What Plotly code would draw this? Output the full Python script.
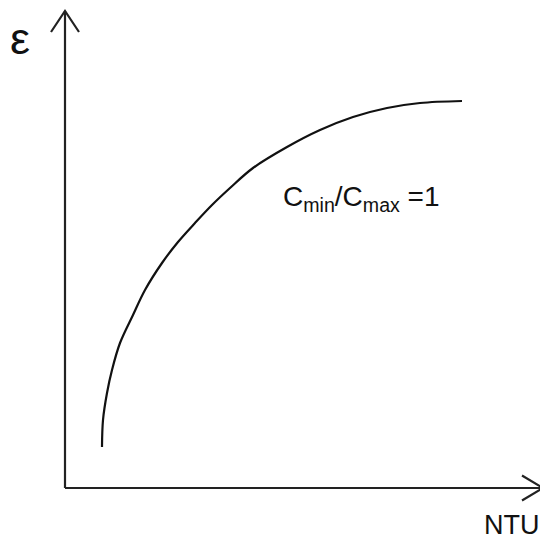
import plotly.graph_objects as go

# effectiveness curve (NTU, epsilon) in arbitrary units
ntu = [0.37, 0.38, 0.42, 0.47, 0.55, 0.68, 0.80, 0.97, 1.13, 1.30,
       1.47, 1.65, 1.88, 2.22, 2.55, 2.88, 3.22, 3.55, 3.97]
eps = [0.41, 0.68, 0.95, 1.18, 1.45, 1.73, 1.98, 2.25, 2.46, 2.65,
       2.83, 3.00, 3.20, 3.41, 3.58, 3.71, 3.80, 3.85, 3.87]

x_end = 4.78
y_end = 4.77

fig = go.Figure()
fig.add_trace(go.Scatter(
    x=ntu, y=eps, mode="lines",
    line=dict(color="#111111", width=2.2, shape="spline", smoothing=1.0),
    hoverinfo="skip", showlegend=False,
))

axis_line = dict(color="#222222", width=2.2)
fig.add_shape(type="line", x0=0, y0=0, x1=x_end, y1=0, line=axis_line)
fig.add_shape(type="line", x0=0, y0=0, x1=0, y1=y_end, line=axis_line)
# open arrowheads
fig.add_shape(type="path", path=f"M {x_end-0.21},0.125 L {x_end},0 L {x_end-0.21},-0.125",
              line=axis_line)
fig.add_shape(type="path", path=f"M -0.14,{y_end-0.21} L 0,{y_end} L 0.14,{y_end-0.21}",
              line=axis_line)

fig.add_annotation(x=-0.45, y=4.50, text="ε", showarrow=False,
                   font=dict(size=45, color="#111111"))
fig.add_annotation(x=4.77, y=-0.535, text="NTU", showarrow=False,
                   xanchor="right", yanchor="bottom",
                   font=dict(size=27, color="#111111"))
fig.add_annotation(x=2.16, y=2.9, text="C<sub>min</sub>/C<sub>max</sub> =1",
                   showarrow=False, xanchor="left",
                   font=dict(size=28, color="#111111"))

# page body adds an 8px margin, so the figure is 8px smaller each way
fig.update_xaxes(range=[-0.57, 4.83], visible=False, fixedrange=True)
fig.update_yaxes(range=[-0.54, 4.80], visible=False, fixedrange=True)
fig.update_layout(
    width=540, height=534,
    margin=dict(l=0, r=0, t=0, b=0),
    paper_bgcolor="white", plot_bgcolor="white",
    font=dict(family="Liberation Sans, Arial, sans-serif"),
)

fig.write_html("out.html")
